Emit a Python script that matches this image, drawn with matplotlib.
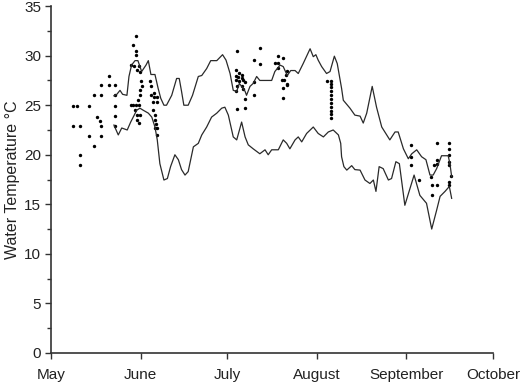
import matplotlib
matplotlib.use("Agg")
import matplotlib.pyplot as plt
from matplotlib.ticker import MultipleLocator

plt.rcParams['font.family'] = ['Liberation Sans', 'DejaVu Sans']

# x in days since May 1
month_ticks = [0, 31, 61, 92, 123, 153]
month_labels = ["May", "June", "July", "August", "September", "October"]

max_day = [21.8, 22.8, 23.9, 24.8, 26.3, 27.0, 27.9, 29.1, 30.1, 31.4, 32.9, 33.7, 34.6, 36.0,
           37.1, 38.0, 39.1, 40.0, 41.8, 43.5, 44.4, 45.2, 46.0, 47.5, 49.0, 51.0, 52.2, 53.9,
           55.3, 57.4, 59.4, 60.6, 62.0, 63.1, 64.3, 65.2, 66.0, 67.2, 67.7, 68.9, 70.0, 71.2,
           72.3, 76.4, 77.5, 79.3, 80.4, 81.8, 83.0, 84.5, 85.6, 87.3, 89.7, 90.8, 91.7, 92.5,
           93.7, 95.4, 96.6, 98.1, 99.1, 100.6, 101.2, 103.5, 105.2, 107.0, 108.1, 109.3, 111.2,
           112.7, 114.5, 117.3, 119.1, 120.2, 122.0, 123.7, 124.9, 126.6, 128.3, 129.8, 131.2,
           132.3, 133.5, 135.2, 137.5, 138.1, 138.7]
max_temp = [25.95, 26.1, 26.5, 26.1, 26.0, 27.9, 29.05, 29.5, 29.5, 28.4, 29.05, 29.5, 28.1, 28.1,
            26.7, 25.7, 25.0, 25.0, 26.0, 27.7, 27.7, 26.4, 25.0, 25.0, 26.0, 27.9, 28.0, 28.7,
            29.5, 29.5, 30.1, 29.55, 28.2, 26.5, 26.4, 27.2, 26.9, 26.4, 26.0, 26.9, 27.2, 27.9,
            27.5, 27.5, 28.4, 29.05, 28.9, 28.0, 28.5, 28.5, 28.2, 29.2, 30.7, 29.9, 30.1, 29.55,
            28.9, 28.2, 28.4, 29.95, 29.2, 26.7, 25.5, 24.7, 24.0, 23.9, 23.2, 24.2, 26.9,
            24.8, 22.8, 21.5, 22.3, 22.3, 20.6, 19.6, 20.1, 20.5, 19.8, 19.5, 17.95,
            17.95, 18.6, 19.9, 19.9, 19.1, 17.8]

min_day = [21.8, 23.3, 24.5, 26.4, 27.6, 29.7, 30.8, 31.9, 33.7, 34.9, 36.0, 36.8, 37.7, 39.1,
           40.3, 41.4, 42.9, 44.1, 45.2, 46.4, 47.5, 49.3, 51.0, 52.2, 53.9, 55.6, 57.4, 59.1,
           60.2, 61.4, 63.1, 64.3, 66.0, 67.2, 68.3, 70.0, 72.3, 74.1, 75.2, 76.4, 78.7, 80.4,
           81.6, 82.7, 84.5, 85.6, 86.8, 88.5, 90.8, 92.5, 94.3, 96.0, 97.7, 99.5, 100.3, 100.6,
           101.4, 102.4, 104.1, 105.2, 107.0, 108.7, 110.4, 111.6, 112.5, 113.6, 115.0, 116.8,
           117.9, 119.4, 120.6, 122.5, 125.7, 127.7, 130.0, 131.8, 133.5, 134.7, 136.4, 137.9, 138.7]
min_temp = [23.0, 22.0, 22.7, 22.5, 23.3, 24.5, 24.7, 24.5, 24.2, 23.8, 22.8, 21.5, 19.1, 17.45,
            17.6, 18.8, 20.0, 19.5, 18.5, 17.95, 18.3, 20.8, 21.15, 22.0, 22.8, 23.8, 24.2, 24.7,
            24.8, 24.0, 21.8, 21.5, 23.3, 21.8, 21.0, 20.6, 20.1, 20.5, 20.0, 20.5, 20.5, 21.5,
            21.15, 20.6, 21.5, 21.8, 21.3, 22.15, 22.8, 22.15, 21.8, 22.3, 22.5, 22.0, 21.15, 19.8,
            18.8, 18.45, 18.9, 18.5, 18.45, 17.45, 17.1, 17.45, 16.3, 18.8, 18.6, 17.45,
            17.6, 19.3, 19.1, 14.9, 17.95, 15.9, 15.1, 12.5, 14.4, 15.8, 16.3, 16.8, 15.6]

obs_day = [7.7, 8.9, 13.3, 7.7, 10.0, 10.0, 10.0, 13.3, 15.0, 15.0, 17.2, 17.2, 16.0, 17.0, 17.2,
           17.2, 20.2, 20.2, 22.2, 22.2, 22.2, 22.2, 22.2,
           29.4, 28.5, 29.4, 29.4, 27.6, 28.7, 29.7, 30.6, 30.8, 31.4, 30.8, 30.8, 30.2, 27.6,
           28.5, 29.4, 30.6, 29.1, 29.7, 29.7, 30.6, 30.8, 31.0, 34.3, 34.6, 35.7, 35.7, 36.6,
           34.5, 35.4, 36.6, 35.4, 36.0, 36.0, 36.3, 36.0, 36.6, 36.6,
           64.3, 72.3, 70.3, 72.3, 64.0, 65.2, 66.0, 64.0, 64.8, 66.0, 64.0, 65.2, 66.4, 67.2,
           64.3, 66.0, 66.6, 64.0, 70.3, 70.3, 67.2, 64.3, 67.2, 78.5, 80.4, 77.5, 78.5, 78.7,
           81.6, 81.3, 79.9, 80.8, 81.6, 81.8, 80.4, 80.4,
           95.4, 96.8, 96.8, 96.8, 96.8, 96.8, 96.8, 96.8, 96.8, 96.8, 96.8, 96.8,
           124.5, 124.5, 124.5, 127.5, 133.5, 137.9, 137.9, 137.9, 137.9, 137.9, 138.4, 137.9,
           137.9, 133.7, 133.5, 132.6, 131.4, 131.8, 133.7, 131.8]
obs_temp = [24.9, 24.9, 24.9, 22.9, 22.9, 20.0, 19.0, 21.9, 20.9, 26.0, 26.0, 27.0, 23.8, 23.4, 22.9,
            21.9, 27.9, 27.0, 27.0, 26.0, 24.9, 23.9, 22.9,
            32.0, 31.1, 30.5, 30.05, 29.05, 28.95, 28.6, 28.95, 28.4, 26.9, 26.5, 26.0, 25.5, 25.0,
            25.0, 25.0, 25.0, 24.5, 24.0, 23.5, 23.2, 24.0, 27.4, 27.4, 26.9, 26.2, 25.8, 25.8,
            26.0, 25.3, 25.3, 24.5, 24.0, 23.5, 23.1, 22.7, 22.7, 22.0,
            30.5, 30.8, 29.6, 29.15, 28.6, 28.3, 28.1, 27.9, 27.8, 27.7, 27.5, 27.4, 27.5, 27.3,
            26.9, 26.9, 26.6, 26.4, 27.3, 26.0, 25.6, 24.6, 24.7, 30.0, 29.8, 29.3, 29.3, 28.8,
            28.5, 28.1, 27.5, 27.5, 27.1, 27.0, 26.7, 25.75,
            27.4, 27.4, 27.1, 26.8, 26.4, 26.0, 25.6, 25.2, 24.8, 24.4, 24.1, 23.7,
            21.0, 19.8, 19.0, 17.45, 21.15, 21.2, 20.6, 20.0, 19.3, 19.0, 17.85, 17.3,
            16.95, 19.5, 19.1, 19.0, 17.8, 16.95, 16.95, 15.9]

fig = plt.figure(figsize=(5.2, 3.84), dpi=100)
ax = fig.add_axes([0.098, 0.081, 0.850, 0.903])

ax.plot(max_day, max_temp, color="#2a2a2a", lw=0.9)
ax.plot(min_day, min_temp, color="#2a2a2a", lw=0.9)
ax.scatter(obs_day, obs_temp, s=6, marker="o", color="black", linewidths=0)

ax.set_xlim(0, 153)
ax.set_ylim(0, 35)
ax.set_xticks(month_ticks)
ax.set_xticklabels(month_labels)
ax.yaxis.set_major_locator(MultipleLocator(5))
ax.yaxis.set_minor_locator(MultipleLocator(2.5))
ax.set_ylabel("Water Temperature °C", fontsize=11.5, labelpad=3, color="#222222")

for s in ["top", "right"]:
    ax.spines[s].set_visible(False)
for s in ["left", "bottom"]:
    ax.spines[s].set_color("#333333")
    ax.spines[s].set_linewidth(1.2)

ax.tick_params(axis="both", which="both", color="#333333", width=1.0, labelsize=11,
               labelcolor="#222222")
ax.tick_params(axis="y", which="major", length=4, pad=3)
ax.tick_params(axis="y", which="minor", length=3)
ax.tick_params(axis="x", which="major", length=4, pad=7)

fig.savefig("out.png", dpi=100)
